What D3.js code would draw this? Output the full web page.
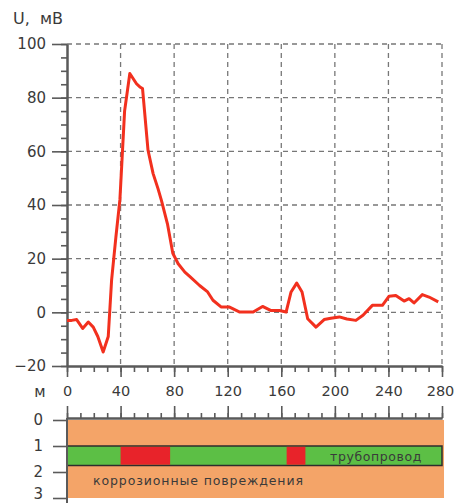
<!DOCTYPE html>
<html>
<head>
<meta charset="utf-8">
<script src="https://cdn.jsdelivr.net/npm/d3@7"></script>
<style>
  body { margin: 0; background: #fff; }
  svg text { font-family: "DejaVu Sans", sans-serif; fill: #3a3a3a; }
</style>
</head>
<body>
<svg id="chart" width="455" height="503"></svg>
<script>
// distance along the pipe, m
var dist = [0, 3.5, 7.2, 11.7, 15.9, 19.6, 23, 27, 30.8, 33.3, 36.5, 39.5, 43, 46.9, 51.9, 54.4, 56.4,
  60.5, 64.3, 68, 70.5, 75, 79, 83, 88, 92, 99, 105, 109, 115, 121, 129, 139, 146, 152, 158.6,
  163.6, 167.3, 171.5, 175.5, 179.7, 185.9, 192, 197, 203.3, 209, 215.7, 221, 228, 235.5,
  240.5, 245.5, 251.7, 255.4, 259.1, 265.3, 270.3, 277.2]
// potential, mV
var volts = [-3, -3, -2.7, -6, -3.6, -5.5, -9, -14.8, -9, 12, 28, 42, 75, 89, 85.2, 84, 83.4,
  60.4, 51.7, 46, 41.7, 33, 22, 18.1, 15, 13.2, 10, 7.6, 4.5, 2, 2, 0.1, 0.1, 2.2, 0.7, 0.7,
  0.1, 7.6, 10.9, 7.6, -2.4, -5.5, -2.7, -2.2, -1.7, -2.5, -3, -1.1, 2.6, 2.6,
  6, 6.3, 4.2, 5.1, 3.5, 6.6, 5.7, 3.9]

var xTicks = [0, 40, 80, 120, 160, 200, 240, 280]
var yTicks = [-20, 0, 20, 40, 60, 80, 100]
var depthTicks = [0, 1, 2, 3]
// damaged sections of the pipe, m
var damage = [[40, 77], [164, 178]]
var pipeDepth = [1, 1.75]

var svg = d3.select("#chart")
var x = d3.scaleLinear().domain([0, 280]).range([67, 442])
var y = d3.scaleLinear().domain([-20, 100]).range([366, 44])
var d = d3.scaleLinear().domain([0, 3]).range([420, 498])

var axisColor = "#5a5a5a"

// grid
svg.append("g").selectAll("line")
  .data(yTicks.filter(function(t) { return t > -20 }))
  .join("line")
  .attr("x1", x(0)).attr("x2", x(280))
  .attr("y1", function(t) { return y(t) }).attr("y2", function(t) { return y(t) })
  .attr("stroke", "#777").attr("stroke-width", 1.3).attr("stroke-dasharray", "5,4")
svg.append("g").selectAll("line")
  .data(xTicks.filter(function(t) { return t > 0 }))
  .join("line")
  .attr("x1", function(t) { return x(t) }).attr("x2", function(t) { return x(t) })
  .attr("y1", y(100)).attr("y2", y(-20))
  .attr("stroke", "#777").attr("stroke-width", 1.3).attr("stroke-dasharray", "5,4")

function styleAxis(g) {
  g.select(".domain").attr("stroke", axisColor).attr("stroke-width", 2)
  g.selectAll(".tick line").attr("stroke", axisColor).attr("stroke-width", 1.6)
  g.selectAll("text").attr("fill", "#3a3a3a")
}

// y axis: minor then major
svg.append("g").attr("transform", "translate(" + x(0) + ",0)")
  .call(d3.axisLeft(y).tickValues(d3.range(-20, 101, 5)).tickSize(6).tickFormat("").tickSizeOuter(0))
  .call(styleAxis)
svg.append("g").attr("transform", "translate(" + x(0) + ",0)")
  .call(d3.axisLeft(y).tickValues(yTicks).tickSize(15).tickPadding(6).tickSizeOuter(0))
  .call(styleAxis)
  .call(function(g) { g.selectAll("text").attr("font-size", 15).attr("font-family", "DejaVu Sans") })

// x axis
svg.append("g").attr("transform", "translate(0," + y(-20) + ")")
  .call(d3.axisBottom(x).tickValues(d3.range(0, 281, 10)).tickSize(6).tickFormat("").tickSizeOuter(0))
  .call(styleAxis)
svg.append("g").attr("transform", "translate(0," + y(-20) + ")")
  .call(d3.axisBottom(x).tickValues(xTicks).tickSize(11).tickPadding(9).tickSizeOuter(0))
  .call(styleAxis)
  .call(function(g) {
    g.selectAll("text").attr("font-size", 14.5).attr("font-family", "DejaVu Sans")
      .attr("dx", function(t) { return t === 280 ? -2 : 0 })
  })

svg.append("text").attr("x", 40).attr("y", 397).attr("text-anchor", "middle")
  .attr("font-size", 15).text("м")
svg.append("text").attr("x", 13).attr("y", 24).attr("font-size", 16)
  .attr("xml:space", "preserve").text("U,  мВ")

// curve
var line = d3.line()
  .x(function(p) { return x(p[0]) })
  .y(function(p) { return y(p[1]) })
svg.append("path")
  .datum(d3.zip(dist, volts))
  .attr("d", line)
  .attr("fill", "none")
  .attr("stroke", "#f2301e")
  .attr("stroke-width", 3)
  .attr("stroke-linejoin", "round")

// lower panel: soil and pipe
svg.append("rect")
  .attr("x", x(0)).attr("y", d(0))
  .attr("width", x(281.5) - x(0)).attr("height", d(3) - d(0))
  .attr("fill", "#f4a468")

svg.append("rect")
  .attr("x", x(0)).attr("y", d(pipeDepth[0]))
  .attr("width", x(280) - x(0)).attr("height", d(pipeDepth[1]) - d(pipeDepth[0]))
  .attr("fill", "#5cbf45").attr("stroke", "#2d2d2d").attr("stroke-width", 1.5)

svg.append("g").selectAll("rect")
  .data(damage)
  .join("rect")
  .attr("x", function(s) { return x(s[0]) })
  .attr("y", d(pipeDepth[0]) + 0.75)
  .attr("width", function(s) { return x(s[1]) - x(s[0]) })
  .attr("height", d(pipeDepth[1]) - d(pipeDepth[0]) - 1.5)
  .attr("fill", "#e8232a")

svg.append("text").attr("x", 376).attr("y", 461).attr("text-anchor", "middle")
  .attr("font-size", 12.5).attr("letter-spacing", 0.6).attr("fill", "#3f3f3f").text("трубопровод")
svg.append("text").attr("x", 93).attr("y", 485)
  .attr("font-size", 12.5).attr("letter-spacing", 0.9).attr("fill", "#3f3f3f").text("коррозионные повреждения")

// lower panel axes
svg.append("g").attr("transform", "translate(0," + (d(0) - 2) + ")")
  .call(d3.axisTop(x).tickValues(d3.range(0, 281, 10)).tickSize(5).tickFormat("").tickSizeOuter(0))
  .call(styleAxis)
svg.append("g").attr("transform", "translate(0," + (d(0) - 2) + ")")
  .call(d3.axisTop(x).tickValues(xTicks).tickSize(12).tickFormat("").tickSizeOuter(0))
  .call(styleAxis)

svg.append("line")
  .attr("x1", x(0)).attr("x2", x(0)).attr("y1", d(0) - 2).attr("y2", 503)
  .attr("stroke", axisColor).attr("stroke-width", 2)
svg.append("g").attr("transform", "translate(" + x(0) + ",0)")
  .call(d3.axisLeft(d).tickValues(depthTicks).tickSize(14).tickPadding(10).tickFormat(d3.format("d")).tickSizeOuter(0))
  .call(styleAxis)
  .call(function(g) {
    g.select(".domain").remove()
    g.selectAll("text").attr("font-size", 15).attr("font-family", "DejaVu Sans")
      .attr("dy", function(t) { return t === 3 ? "0.05em" : "0.32em" })
  })
</script>
</body>
</html>
